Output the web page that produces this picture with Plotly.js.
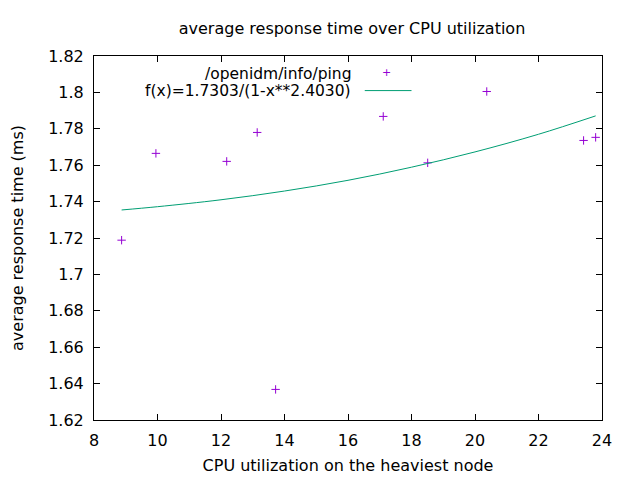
<!DOCTYPE html>
<html>
<head>
<meta charset="utf-8">
<script src="https://cdn.plot.ly/plotly-3.0.1.min.js"></script>
<style>html,body{margin:0;padding:0;background:#fff;}#chart{width:640px;height:480px;}</style>
</head>
<body>
<div id="chart"></div>
<script>
// Measured data points (CPU utilization %, average response time ms)
const cpuUtil = [8.87, 9.95, 12.18, 13.14, 13.72, 17.11, 18.51, 20.37, 23.42, 23.80];
const respTime = [1.7188, 1.7665, 1.7621, 1.7780, 1.6368, 1.7868, 1.7613, 1.8005, 1.7736, 1.7753];

// Fitted curve
const fitX = [8.87, 10, 12, 14, 16, 18, 20, 22, 23.8];
const fitY = [1.7354, 1.7372, 1.7410, 1.7458, 1.7517, 1.7589, 1.7673, 1.7770, 1.7871];

const seriesName = "/openidm/info/ping";
const fitName = "f(x)=1.7303/(1-x**2.4030)";
const xTicks = [8, 10, 12, 14, 16, 18, 20, 22, 24];
const yTicks = [1.62, 1.64, 1.66, 1.68, 1.7, 1.72, 1.74, 1.76, 1.78, 1.8, 1.82];

const FONT = "DejaVu Sans, sans-serif";
const FS = 16;
const pointColor = "#9400D3";
const lineColor = "#009E73";

const traces = [
  {
    x: cpuUtil, y: respTime, type: "scatter", mode: "markers", name: seriesName,
    marker: {symbol: "cross-thin", size: 6, line: {color: pointColor, width: 1}, color: pointColor},
    showlegend: false
  },
  {
    x: fitX, y: fitY, type: "scatter", mode: "lines", name: fitName,
    line: {color: lineColor, width: 1, shape: "spline"},
    showlegend: false
  }
];

const axisCommon = {
  showline: true, linecolor: "#000", linewidth: 1, mirror: "ticks",
  ticks: "inside", ticklen: 6, tickcolor: "#000", tickwidth: 1,
  showgrid: false, zeroline: false,
  tickfont: {family: FONT, size: FS, color: "#000"}
};

const layout = {
  width: 640, height: 480,
  margin: {l: 94, r: 38, t: 56, b: 60},
  paper_bgcolor: "#fff", plot_bgcolor: "#fff",
  font: {family: FONT, size: FS, color: "#000"},
  title: {text: "average response time over CPU utilization", font: {family: FONT, size: FS, color: "#000"},
          x: 0.55, xanchor: "center", y: 0.94, yanchor: "middle"},
  xaxis: Object.assign({}, axisCommon, {
    range: [8, 24], tickvals: xTicks, ticktext: xTicks.map(String), ticklabelstandoff: 6,
    title: {text: "CPU utilization on the heaviest node", font: {family: FONT, size: FS, color: "#000"}, standoff: 10}
  }),
  yaxis: Object.assign({}, axisCommon, {
    range: [1.62, 1.82], tickvals: yTicks, ticktext: yTicks.map(v => String(v)), ticklabelstandoff: 6,
    title: {text: "average response time (ms)", font: {family: FONT, size: FS, color: "#000"}, standoff: 20}
  }),
  annotations: [
    {xref: "paper", yref: "paper", x: 0.509, y: 0.951, xanchor: "right", yanchor: "middle",
     text: seriesName, showarrow: false, font: {family: FONT, size: 15.5, color: "#000"}},
    {xref: "paper", yref: "paper", x: 0.509, y: 0.903, xanchor: "right", yanchor: "middle",
     text: fitName, showarrow: false, font: {family: FONT, size: 15.5, color: "#000"}},
    {xref: "paper", yref: "paper", x: 0.576, y: 0.955, xanchor: "center", yanchor: "middle",
     text: "+", showarrow: false, font: {family: FONT, size: 11, color: pointColor}}
  ],
  shapes: [
    {type: "line", xref: "paper", yref: "paper", x0: 0.533, x1: 0.625, y0: 0.905, y1: 0.905,
     line: {color: lineColor, width: 1}}
  ]
};

Plotly.newPlot("chart", traces, layout, {displayModeBar: false, staticPlot: true});
</script>
</body>
</html>
